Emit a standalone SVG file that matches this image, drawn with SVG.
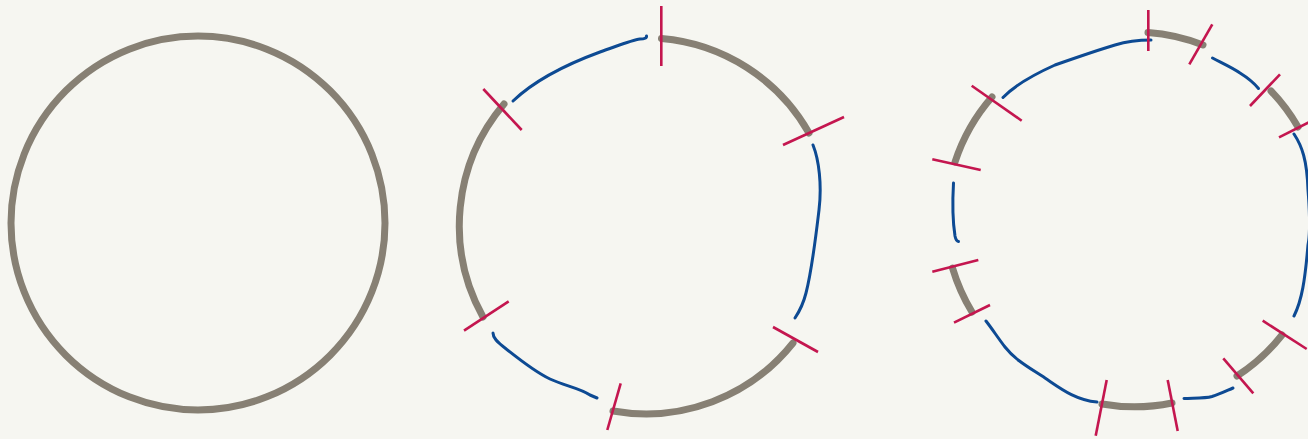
<svg xmlns="http://www.w3.org/2000/svg" width="1308" height="439" viewBox="0 0 1308 439">
<style>
.g{fill:none;stroke:#878074;stroke-width:7;stroke-linecap:round}
.b{fill:none;stroke:#0d4a93;stroke-width:3;stroke-linecap:round;stroke-linejoin:round}
.r{fill:none;stroke:#c4164f;stroke-width:2.6;stroke-linecap:butt}
</style>
<rect width="1308" height="439" fill="#f6f6f1"/>
<g id="circle-full">
<circle class="g" cx="198" cy="223" r="187"/>
</g>
<g id="circle-split">
<path class="g" d="M661.5,38.5 A188,188 0 0 1 809,133"/>
<path class="g" d="M483,317 A188,188 0 0 1 504,104"/>
<path class="g" d="M793,343 A188,188 0 0 1 613,411"/>
<path class="b" d="M513,101 C535,80 570,63 600,52 C620,45 632,40 640,39 Q647,39 646.5,36"/>
<path class="b" d="M813,145 C819,160 822,185 819,210 C816,235 812,270 806,293 C803,305 799,312 795,318"/>
<path class="b" d="M493,333 C493,338 497,342 505,348 C520,360 535,372 550,379 C565,386 580,388 590,395 L597,398"/>
<line class="r" x1="661.3" y1="6" x2="661.3" y2="66"/>
<line class="r" x1="483.3" y1="89" x2="521.7" y2="130"/>
<line class="r" x1="783" y1="145" x2="844" y2="117"/>
<line class="r" x1="464" y1="330.7" x2="508.7" y2="301.3"/>
<line class="r" x1="607.3" y1="430" x2="620.7" y2="383.3"/>
<line class="r" x1="773" y1="327" x2="818" y2="352"/>
</g>
<g id="circle-split-more">
<path class="g" d="M1148,32.5 A187,187 0 0 1 1203,45"/>
<path class="g" d="M1271,91 A187,187 0 0 1 1298,127"/>
<path class="g" d="M1282,335 A187,187 0 0 1 1237,376"/>
<path class="g" d="M1172,403 A187,187 0 0 1 1102,404"/>
<path class="g" d="M972,312 A187,187 0 0 1 952.5,268"/>
<path class="g" d="M955,162 A187,187 0 0 1 992,97"/>
<path class="b" d="M1003,97.5 C1015,85 1035,74 1055,65 C1075,58 1098,50 1115,45 C1128,41 1140,40 1151,40"/>
<path class="b" d="M1212.5,58 C1222,63 1233,68 1240,73 C1248,78 1254,83 1258.5,88.5"/>
<path class="b" d="M1294,134 C1302,146 1307,160 1308,190 C1310,215 1310,235 1308,245 C1305,280 1302,300 1294,316"/>
<path class="b" d="M953.5,183 C952.5,200 952.5,220 955,236 Q956,241 958.5,241.5"/>
<path class="b" d="M986,321 C993,330 998,338 1005,347 C1015,360 1030,368 1045,378 C1060,388 1075,400 1097,402"/>
<path class="b" d="M1184,398.5 C1195,398 1205,398.5 1212,396.5 C1220,394 1226,391 1233,388"/>
<line class="r" x1="1148.3" y1="10" x2="1148.3" y2="51"/>
<line class="r" x1="1212.3" y1="24.3" x2="1189.3" y2="64.3"/>
<line class="r" x1="1280" y1="74.3" x2="1250" y2="106"/>
<line class="r" x1="1313" y1="120.2" x2="1279" y2="137.3"/>
<line class="r" x1="971.7" y1="85.7" x2="1021.7" y2="120.7"/>
<line class="r" x1="932.3" y1="159.3" x2="980.7" y2="170"/>
<line class="r" x1="932.3" y1="271.7" x2="978.3" y2="260"/>
<line class="r" x1="954" y1="322.7" x2="990" y2="305"/>
<line class="r" x1="1106.7" y1="380" x2="1095.7" y2="435.7"/>
<line class="r" x1="1167.7" y1="380" x2="1177.7" y2="431"/>
<line class="r" x1="1223.3" y1="358.3" x2="1253.3" y2="393.3"/>
<line class="r" x1="1262.7" y1="320.7" x2="1306.7" y2="349"/>
</g>
</svg>
